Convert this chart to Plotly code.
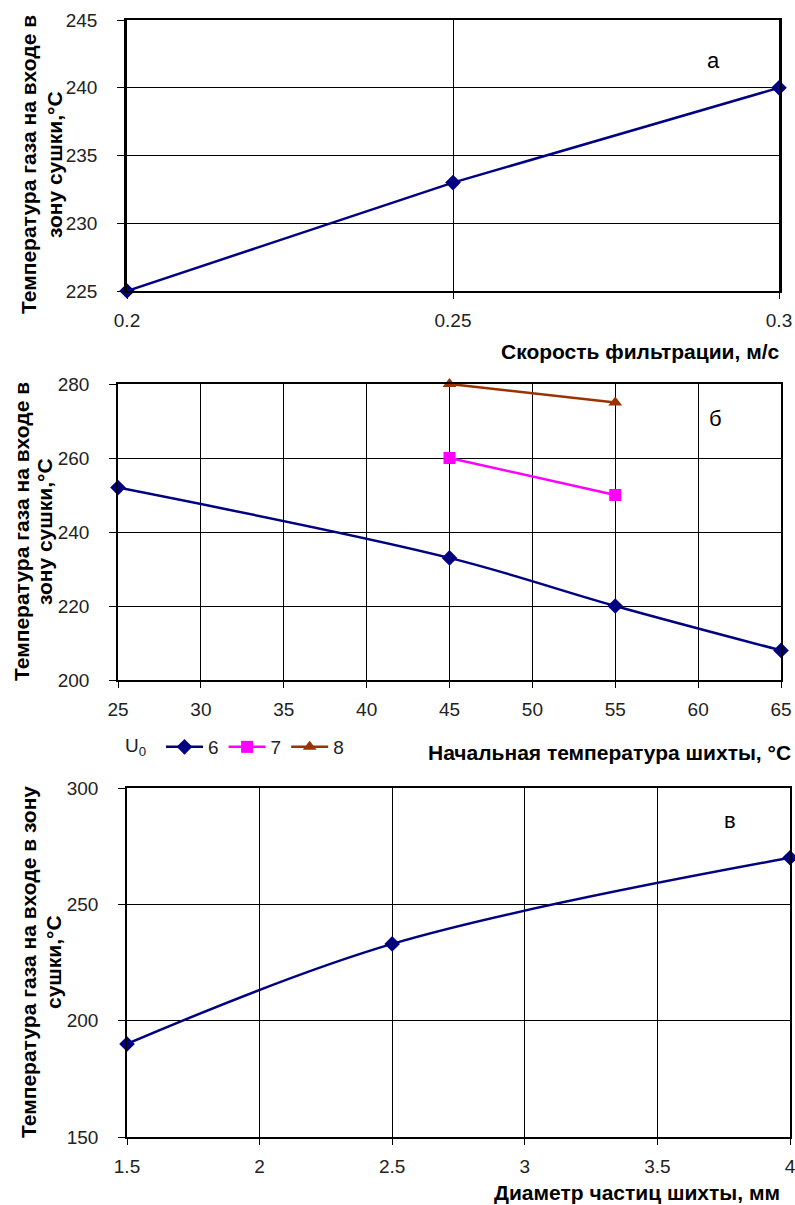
import plotly.graph_objects as go

# Panel (а): gas temperature vs filtration velocity
vel = [0.2, 0.25, 0.3]
t_vel = [225, 233, 240]

# Panel (б): gas temperature vs initial charge temperature, by U0
t0_u6 = [25, 45, 55, 65]
t_u6 = [252, 233, 220, 208]
t0_u7 = [45, 55]
t_u7 = [260, 250]
t0_u8 = [45, 55]
t_u8 = [280, 275]

# Panel (в): gas temperature vs particle diameter
diam = [1.5, 2.5, 4]
t_diam = [190, 233, 270]

W, H = 795, 1205
FONT = "Liberation Sans, Arial, sans-serif"
NAVY = "#000080"
PINK = "#FF00FF"
BROWN = "#993300"
TICK_COLOR = "#222222"


def px(x):
    return x / W


def py(y):
    return 1 - y / H


fig = go.Figure()

fig.add_trace(go.Scatter(
    x=vel, y=t_vel, mode="lines+markers", xaxis="x", yaxis="y",
    line=dict(color=NAVY, width=2.5),
    marker=dict(symbol="diamond", size=12, color=NAVY),
    cliponaxis=False, showlegend=False))

fig.add_trace(go.Scatter(
    x=t0_u6, y=t_u6, mode="lines+markers", xaxis="x2", yaxis="y2", name="6",
    line=dict(color=NAVY, width=2.5, shape="spline", smoothing=1.0),
    marker=dict(symbol="diamond", size=12, color=NAVY),
    cliponaxis=False))
fig.add_trace(go.Scatter(
    x=t0_u7, y=t_u7, mode="lines+markers", xaxis="x2", yaxis="y2", name="7",
    line=dict(color=PINK, width=2.5),
    marker=dict(symbol="square", size=12, color=PINK),
    cliponaxis=False))
fig.add_trace(go.Scatter(
    x=t0_u8, y=t_u8, mode="lines+markers", xaxis="x2", yaxis="y2", name="8",
    line=dict(color=BROWN, width=2.5),
    marker=dict(symbol="triangle-up", size=12, color=BROWN),
    cliponaxis=False))

fig.add_trace(go.Scatter(
    x=diam, y=t_diam, mode="lines+markers", xaxis="x3", yaxis="y3",
    line=dict(color=NAVY, width=2.5, shape="spline", smoothing=1.0),
    marker=dict(symbol="diamond", size=12, color=NAVY),
    cliponaxis=False, showlegend=False))


def xaxis(domain, rng, dtick, anchor):
    return dict(domain=domain, range=rng, dtick=dtick, anchor=anchor,
                automargin=False, ticklabeloverflow="allow",
                showgrid=True, gridcolor="black", gridwidth=1,
                showline=True, linecolor="black", linewidth=1.5, mirror=True,
                ticks="outside", ticklen=6, tickcolor="black",
                ticklabelstandoff=5, zeroline=False,
                tickfont=dict(family=FONT, size=19, color=TICK_COLOR))


def yaxis(domain, rng, dtick, anchor, lw=1.5):
    return dict(domain=domain, range=rng, dtick=dtick, anchor=anchor,
                automargin=False, ticklabeloverflow="allow",
                showgrid=True, gridcolor="black", gridwidth=1,
                showline=True, linecolor="black", linewidth=lw, mirror=True,
                ticks="outside", ticklen=7, tickcolor="black",
                ticklabelstandoff=16, zeroline=False,
                tickfont=dict(family=FONT, size=19, color=TICK_COLOR))


layout = dict(
    width=W, height=H, margin=dict(l=0, r=0, t=0, b=0, autoexpand=False),
    paper_bgcolor="white", plot_bgcolor="white",
    font=dict(family=FONT, size=18, color="black"),
    xaxis=xaxis([px(127), px(779)], [0.2, 0.3], 0.05, "y"),
    yaxis=yaxis([py(291), py(20)], [225, 245], 5, "x", lw=2.5),
    xaxis2=xaxis([px(118), px(781)], [25, 65], 5, "y2"),
    yaxis2=yaxis([py(680), py(384)], [200, 280], 20, "x2"),
    xaxis3=xaxis([px(127), px(790)], [1.5, 4], 0.5, "y3"),
    yaxis3=yaxis([py(1137), py(788)], [150, 300], 50, "x3"),
    legend=dict(orientation="h", x=px(161), y=py(747), xanchor="left",
                yanchor="middle", font=dict(family=FONT, size=19, color=TICK_COLOR),
                bgcolor="rgba(0,0,0,0)", itemwidth=37),
)
fig.update_layout(**layout)

bold = dict(family=FONT, size=21, color="black", weight="bold")
plain = dict(family=FONT, size=22, color="black")

annotations = [
    # y-axis titles, one annotation per line
    dict(text="Температура газа на входе в", x=px(29), y=py(165), textangle=-90, font=bold),
    dict(text="зону сушки,°С", x=px(55), y=py(165), textangle=-90, font=bold),
    dict(text="Температура газа на входе в", x=px(21), y=py(532), textangle=-90, font=bold),
    dict(text="зону сушки,°С", x=px(44), y=py(532), textangle=-90, font=bold),
    dict(text="Температура газа на входе в зону", x=px(28), y=py(962), textangle=-90, font=bold),
    dict(text="сушки,°С", x=px(53), y=py(962), textangle=-90, font=bold),
    # x-axis titles
    dict(text="Скорость фильтрации, м/с", x=px(782), y=py(351), xanchor="right",
         font=bold),
    dict(text="Начальная температура шихты, °С", x=px(793), y=py(752), xanchor="right",
         font=bold),
    dict(text="Диаметр частиц шихты, мм", x=px(782), y=py(1192), xanchor="right",
         font=bold),
    # panel letters
    dict(text="а", x=px(713), y=py(60), font=plain),
    dict(text="б", x=px(715), y=py(418), font=plain),
    dict(text="в", x=px(730), y=py(820), font=plain),
    # legend caption
    dict(text="U<sub>0</sub>", x=px(135), y=py(747),
         font=dict(family=FONT, size=19, color=TICK_COLOR)),
]
for a in annotations:
    a.setdefault("xref", "paper")
    a.setdefault("yref", "paper")
    a.setdefault("xanchor", "center")
    a.setdefault("yanchor", "middle")
    a["showarrow"] = False
    fig.add_annotation(**a)

fig.write_html("out.html")
